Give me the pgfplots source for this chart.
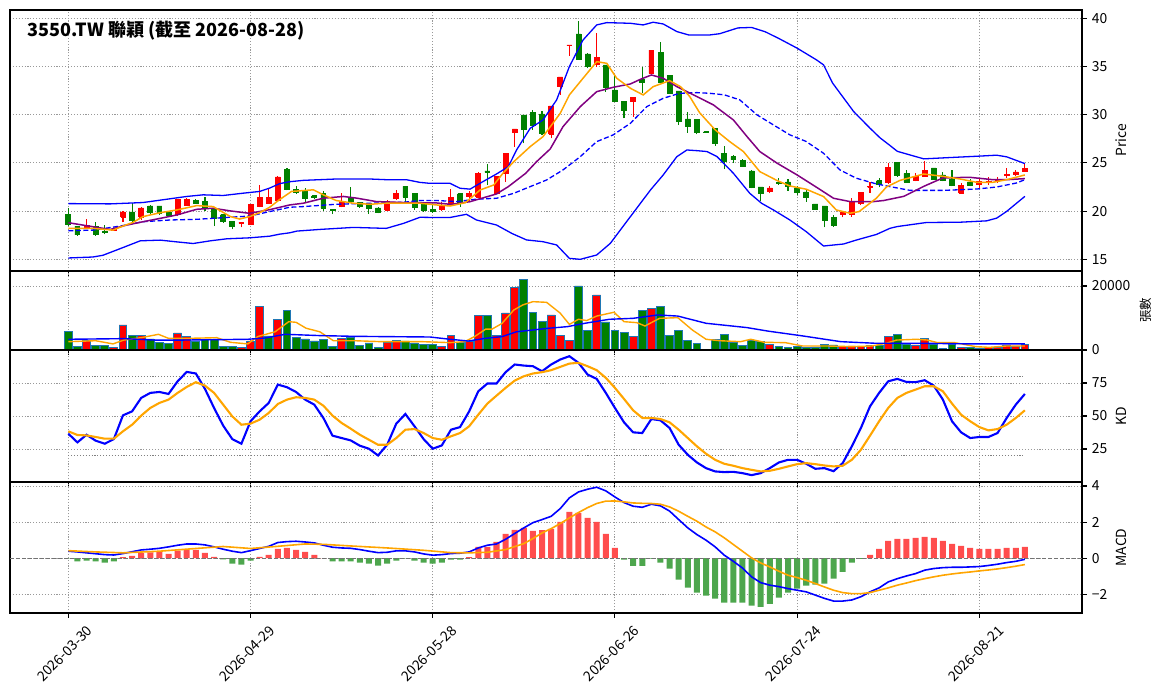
\documentclass[border=0pt]{standalone}
\usepackage{fontspec}
\setmainfont{Noto Sans CJK TC}
\usepackage{pgfplots}
\usepackage{pgfplotstable}
\pgfplotsset{compat=1.18}
\newdimen\pxu \pxu=0.72pt
\definecolor{mplorange}{RGB}{255,165,0}
\definecolor{mplpurple}{RGB}{128,0,128}
\definecolor{mplgreen}{RGB}{0,128,0}
\definecolor{histred}{RGB}{255,77,77}
\definecolor{histgreen}{RGB}{77,166,77}
\definecolor{tabblue}{RGB}{31,119,180}
\pgfplotsset{
 panel/.style={
  scale only axis, width=1072\pxu, anchor=south west,
  xmin=-6.4, xmax=111.27,
  axis line style={black, line width=1.1\pxu},
  ytick pos=right, yticklabel pos=right, xtick pos=bottom,
  xtick={0,20,40,60,80,100},
  tick align=outside, major tick length=4.9\pxu,
  tick style={black, line width=1.1\pxu},
  grid=major,
  major grid style={black!40, line width=0.9\pxu, dash pattern=on 1.1\pxu off 1.8\pxu},
  tick label style={font=\fontsize{10}{12}\selectfont},
  label style={font=\fontsize{10}{12}\selectfont},
  scaled ticks=false,
 },
}
\pgfplotstableread{
i o h l c
0 19.70 20.30 18.45 18.59
1 18.45 18.50 17.45 17.54
2 18.31 19.15 18.10 18.52
3 18.45 18.83 17.47 17.54
4 17.88 18.60 17.60 17.84
5 18.05 18.20 17.95 18.12
6 19.39 20.02 18.87 19.91
7 19.91 20.82 18.90 19.08
8 19.39 20.47 19.08 20.33
9 20.54 20.65 19.74 19.91
10 20.54 20.54 19.63 19.77
11 19.84 19.88 19.50 19.53
12 19.63 21.27 19.49 21.17
13 20.64 21.34 20.57 21.24
14 21.13 21.24 20.75 20.78
15 21.03 21.45 20.02 20.23
16 20.26 20.47 18.45 19.22
17 19.63 19.70 18.80 18.90
18 18.97 19.00 18.10 18.38
19 18.73 18.90 18.31 18.87
20 18.59 20.75 18.55 20.71
21 20.47 22.74 20.40 21.38
22 20.85 22.32 20.82 21.45
23 21.10 23.60 21.00 23.54
24 24.30 24.48 22.14 22.21
25 22.28 22.56 21.76 21.97
26 22.04 22.39 20.82 21.27
27 21.59 21.70 21.25 21.38
28 21.86 22.04 20.02 20.30
29 20.16 20.23 19.70 20.09
30 20.47 21.86 20.40 20.99
31 21.45 22.49 20.82 20.99
32 20.89 20.99 20.37 20.51
33 20.75 20.89 19.74 20.26
34 20.33 20.40 19.77 19.91
35 20.12 21.17 20.05 20.99
36 21.27 22.21 21.17 21.79
37 22.56 22.60 20.99 21.45
38 21.79 21.86 20.12 20.37
39 20.89 20.99 19.95 20.12
40 20.21 20.65 19.81 19.98
41 20.14 20.99 20.02 20.54
42 20.82 22.27 20.75 21.46
43 21.79 21.86 20.43 20.85
44 21.50 22.10 20.90 21.82
45 21.47 24.03 21.38 23.94
46 24.17 24.88 22.72 24.03
47 21.82 23.64 21.73 23.56
48 23.90 26.00 23.07 25.96
49 28.14 28.55 26.69 28.52
50 29.97 29.97 27.03 28.52
51 30.21 30.49 28.42 28.93
52 30.08 30.39 27.90 28.07
53 28.00 30.91 27.55 30.91
54 32.91 33.91 32.05 33.91
55 37.16 37.23 36.13 37.23
56 38.37 39.72 35.70 35.78
57 36.30 36.44 34.80 34.99
58 35.26 38.44 34.99 35.95
59 35.16 35.20 32.39 32.84
60 32.57 34.05 31.29 31.36
61 31.42 31.42 29.63 30.42
62 31.36 31.81 29.80 31.81
63 33.67 34.92 32.22 33.33
64 34.29 36.71 34.29 36.71
65 36.44 37.58 33.30 33.33
66 34.05 34.10 32.15 32.22
67 32.46 32.50 28.93 29.28
68 29.56 30.32 28.14 28.76
69 29.55 29.60 27.97 28.14
70 28.22 28.25 28.15 28.19
71 28.60 28.65 26.76 27.04
72 26.00 26.76 24.34 25.14
73 25.66 25.83 24.97 25.35
74 25.21 25.38 24.55 24.62
75 24.17 24.27 22.37 22.44
76 22.51 22.55 21.09 21.82
77 22.02 22.65 21.85 22.40
78 22.99 23.41 22.71 22.89
79 23.03 23.30 22.13 22.54
80 22.44 22.61 21.68 21.92
81 21.99 22.20 20.99 21.40
82 20.74 20.78 20.12 20.16
83 20.54 20.54 18.32 19.01
84 19.36 19.60 18.39 18.49
85 19.64 19.95 19.36 19.84
86 19.71 21.33 19.43 20.99
87 20.81 21.90 20.64 21.90
88 22.47 23.06 21.92 22.56
89 23.15 23.41 22.47 22.78
90 22.94 25.00 22.80 24.56
91 25.07 25.07 23.54 23.68
92 23.89 24.24 22.92 23.02
93 23.19 23.96 23.09 23.61
94 23.61 25.24 23.54 24.20
95 24.48 24.50 23.26 23.33
96 23.75 24.03 23.09 23.19
97 23.33 24.31 22.57 22.64
98 21.88 22.92 21.80 22.64
99 23.02 23.33 22.57 22.64
100 22.74 23.44 22.40 23.09
101 23.00 23.50 22.74 23.06
102 23.23 23.54 22.92 23.30
103 23.75 24.48 23.44 23.82
104 23.82 24.31 23.61 24.06
105 24.13 24.93 24.06 24.41
}\ohlc
\pgfplotstableread{
i k d
0 36.6 38.4
1 30.0 35.6
2 35.8 35.3
3 31.3 34.1
4 29.0 32.8
5 32.5 32.8
6 50.5 38.4
7 53.5 43.4
8 63.7 50.3
9 67.5 56.1
10 68.2 59.9
11 66.7 62.4
12 76.3 67.5
13 83.4 72.0
14 82.2 75.6
15 70.5 73.0
16 56.1 67.5
17 42.7 58.6
18 32.5 49.7
19 29.0 43.4
20 46.0 44.2
21 53.5 47.2
22 59.9 52.3
23 73.8 59.1
24 71.8 62.4
25 68.2 64.2
26 62.4 63.7
27 58.6 62.4
28 48.5 57.8
29 35.1 50.3
30 33.3 44.7
31 31.5 40.4
32 27.5 35.8
33 25.2 32.0
34 20.1 28.2
35 28.2 28.2
36 44.2 33.3
37 51.5 39.6
38 42.2 40.1
39 32.5 37.1
40 25.2 33.3
41 27.7 32.0
42 39.6 34.6
43 41.6 37.1
44 53.5 42.2
45 68.7 51.0
46 74.6 59.4
47 74.6 65.4
48 83.2 71.3
49 89.0 76.8
50 88.2 80.1
51 87.7 82.2
52 83.9 83.2
53 89.0 84.7
54 92.8 87.2
55 95.3 89.7
56 90.3 90.3
57 81.4 87.7
58 78.1 84.7
59 67.5 78.9
60 56.1 71.3
61 45.2 62.9
62 37.6 54.3
63 37.1 48.5
64 47.7 48.5
65 46.7 47.7
66 40.9 45.2
67 28.2 39.6
68 20.6 33.3
69 14.8 27.0
70 10.5 21.4
71 8.0 16.8
72 7.5 13.8
73 7.7 12.3
74 6.7 10.5
75 5.2 9.2
76 6.7 8.0
77 10.5 8.5
78 14.8 10.0
79 16.8 11.8
80 16.8 13.5
81 13.8 14.3
82 10.0 13.5
83 10.5 12.5
84 8.2 11.8
85 14.3 12.3
86 27.0 16.8
87 40.9 24.4
88 57.3 35.1
89 67.5 46.0
90 76.3 56.1
91 78.1 63.7
92 75.8 67.5
93 75.6 70.0
94 77.1 72.5
95 73.0 72.5
96 62.4 68.7
97 46.0 59.4
98 37.6 51.0
99 33.3 46.0
100 34.1 41.6
101 34.1 39.1
102 37.1 40.1
103 48.5 43.4
104 58.6 48.5
105 66.7 54.3
}\kdtab
\pgfplotstableread{
i dif
0 0.39
1 0.35
2 0.30
3 0.25
4 0.20
5 0.18
6 0.26
7 0.36
8 0.46
9 0.50
10 0.55
11 0.63
12 0.72
13 0.79
14 0.79
15 0.74
16 0.63
17 0.50
18 0.39
19 0.31
20 0.42
21 0.54
22 0.66
23 0.87
24 0.92
25 0.94
26 0.90
27 0.85
28 0.72
29 0.61
30 0.57
31 0.55
32 0.48
33 0.39
34 0.31
35 0.33
36 0.41
37 0.41
38 0.35
39 0.24
40 0.17
41 0.20
42 0.26
43 0.28
44 0.35
45 0.57
46 0.72
47 0.79
48 1.05
49 1.37
50 1.68
51 1.97
52 2.14
53 2.32
54 2.75
55 3.34
56 3.67
57 3.82
58 3.93
59 3.73
60 3.39
61 3.08
62 2.88
63 2.82
64 2.99
65 2.90
66 2.61
67 2.14
68 1.68
69 1.31
70 1.00
71 0.63
72 0.17
73 -0.17
74 -0.54
75 -1.03
76 -1.35
77 -1.49
78 -1.57
79 -1.68
80 -1.77
81 -1.86
82 -2.04
83 -2.22
84 -2.37
85 -2.37
86 -2.31
87 -2.13
88 -1.86
89 -1.64
90 -1.31
91 -1.13
92 -0.98
93 -0.85
94 -0.66
95 -0.57
96 -0.52
97 -0.50
98 -0.50
99 -0.48
100 -0.46
101 -0.40
102 -0.33
103 -0.24
104 -0.17
105 -0.06
}\macdtab
\begin{document}
\begin{tikzpicture}
\useasboundingbox (0,0) rectangle (1164\pxu,698\pxu);
% ---------------- price ----------------
\begin{axis}[panel, at={(10\pxu,427\pxu)}, height=261\pxu,
  ymin=13.79, ymax=40.86, ytick={15,20,25,30,35,40}, yticklabels={15,20,25,30,35,40},
  xticklabels={}, ylabel={Price},
  ylabel style={at={(axis description cs:1.0364,0.5)}, anchor=center}]
\pgfplotstablegetrowsof{\ohlc}
\pgfmathtruncatemacro\lastrow{\pgfplotsretval-1}
\pgfplotsforeachungrouped \rowidx in {0,...,\lastrow}{%
  \pgfplotstablegetelem{\rowidx}{i}\of\ohlc \edef\vi{\pgfplotsretval}%
  \pgfplotstablegetelem{\rowidx}{o}\of\ohlc \edef\vo{\pgfplotsretval}%
  \pgfplotstablegetelem{\rowidx}{h}\of\ohlc \edef\vh{\pgfplotsretval}%
  \pgfplotstablegetelem{\rowidx}{l}\of\ohlc \edef\vl{\pgfplotsretval}%
  \pgfplotstablegetelem{\rowidx}{c}\of\ohlc \edef\vc{\pgfplotsretval}%
  \ifdim\vc pt<\vo pt \def\cc{mplgreen}\else\def\cc{red}\fi
  \pgfmathsetmacro\xa{\vi-0.27}\pgfmathsetmacro\xb{\vi+0.27}%
  \edef\tmp{\noexpand\addplot[draw=\cc, line width=1.1\noexpand\pxu, forget plot] coordinates {(\vi,\vl) (\vi,\vh)};
    \noexpand\addplot[draw=\cc, fill=\cc, line width=0.8\noexpand\pxu, forget plot] coordinates {(\xa,\vo) (\xb,\vo) (\xb,\vc) (\xa,\vc) (\xa,\vo)};}%
  \tmp
}
% Bollinger upper
\addplot[blue, line width=1.3\pxu] coordinates {(0,20.78) (4.6,20.75) (8.2,20.89) (13,21.52) (14.8,21.69) (17,21.62) (19.2,21.86) (21,22.04) (22.1,22.39) (23.2,22.85) (24.3,23.05) (25.8,23.19) (29.4,23.33) (33.1,23.33) (34.9,23.26) (37.1,23.26) (38.6,22.98) (39.7,22.88) (41.9,22.88) (43,22.37) (44.1,22.28) (45.4,23.0) (47,23.85) (48.3,24.61) (49.2,26.34) (50.7,28.59) (52.1,29.45) (53.6,31.53) (55,34.99) (56.5,37.75) (58,39.31) (59.1,39.55) (61.7,39.48) (63.1,39.31) (64.2,39.59) (65.3,39.41) (66.8,38.62) (68.1,38.27) (70.4,38.27) (71.5,38.4) (73.5,39.0) (75,39.05) (76.5,38.6) (78,37.9) (80,36.9) (82.1,35.7) (82.9,35.17) (83.9,33.27) (86.2,30.33) (88,28.6) (89.1,27.6) (90.2,26.8) (91,26.2) (93.9,25.42) (96,25.52) (99.7,25.69) (101.9,25.8) (103,25.63) (105,24.93)};
% Bollinger lower
\addplot[blue, line width=1.3\pxu] coordinates {(0,15.14) (2.7,15.24) (3.8,15.42) (5.7,16.11) (7.9,16.92) (10.1,16.99) (11.9,16.81) (13.7,16.64) (15.6,16.92) (17.4,17.13) (19.9,17.23) (22.1,17.40) (23.2,17.61) (24.3,17.75) (25.1,17.93) (27.6,18.10) (31.3,18.31) (34.9,18.21) (36.8,18.73) (38.6,19.36) (40.1,19.34) (41.9,19.34) (43.7,19.67) (44.8,19.08) (47,18.56) (48.7,17.68) (50.3,17.01) (52.1,16.83) (53.6,16.49) (55,15.10) (56.2,15.0) (58,15.45) (59.5,16.66) (61.7,19.43) (63.9,22.19) (65.3,23.75) (66.8,25.65) (67.9,26.34) (69,26.27) (70.1,26.18) (71.2,25.66) (73,23.93) (74.8,21.85) (76.1,20.81) (77.4,20.12) (79.2,19.08) (81,17.87) (82.9,16.38) (85.1,16.59) (86.5,17.0) (88.7,17.58) (90.2,18.22) (91,18.40) (94.2,18.82) (97.9,18.85) (100.8,18.99) (101.9,19.27) (103,19.97) (104.1,20.83) (105,21.53)};
% middle (MA20)
\addplot[blue, line width=1.3\pxu, dash pattern=on 5\pxu off 2.5\pxu] coordinates {(0,17.96) (2.7,18.03) (5.7,18.45) (8.2,18.90) (11.2,19.08) (14.1,19.15) (17,19.32) (19.9,19.49) (22.1,19.95) (24.3,20.40) (25.8,20.47) (29.4,20.71) (33.1,20.82) (36.8,20.92) (38.6,21.10) (40.4,21.10) (42.6,20.99) (44.8,21.24) (47,21.33) (48.9,21.85) (50.7,22.54) (52.5,23.23) (54.3,24.27) (56.2,25.65) (58,27.21) (59.8,27.90) (61.7,29.11) (63.5,30.84) (65.3,31.70) (67.1,32.22) (69,32.29) (70.4,32.22) (72,32.06) (73.7,31.54) (75.6,29.98) (77.4,28.94) (79.2,27.91) (81,27.22) (82.9,26.0) (84.7,24.27) (86.5,23.41) (88.7,22.82) (90.2,22.54) (92.4,22.15) (96,22.15) (99.7,22.29) (101.9,22.5) (104.1,22.92) (105,23.26)};
% MA10
\addplot[mplpurple, line width=1.5\pxu] coordinates {(0,18.80) (2.7,18.38) (4.6,18.10) (6.4,18.55) (8.2,18.90) (10.1,19.25) (11.9,19.60) (14.1,20.19) (15.9,20.30) (17.8,20.02) (19.9,19.77) (22.1,20.15) (24.3,20.64) (25.8,20.82) (28,21.34) (30.2,21.52) (31.7,21.34) (33.8,20.99) (36.8,20.89) (40.4,20.85) (42,20.70) (44.1,20.98) (47,21.78) (48.3,22.54) (50.2,23.92) (51.4,25.13) (52.9,26.45) (54.3,28.76) (56.2,30.84) (58,32.39) (59.8,32.84) (61.7,33.19) (62.8,33.67) (64,34.12) (65.3,33.78) (66.8,32.91) (69,31.88) (70.8,31.02) (73,29.46) (74.5,27.73) (75.9,26.18) (77.8,24.97) (80,23.75) (82.3,22.37) (84,21.33) (85.8,20.99) (88.4,20.99) (89.5,21.1) (91.7,21.53) (93.9,22.57) (96,23.44) (98.9,23.51) (101.5,23.26) (103,23.26) (105,23.37)};
% MA5
\addplot[mplorange, line width=1.5\pxu] coordinates {(0,18.21) (2.7,18.21) (4.9,18.03) (6,18.45) (7.1,18.83) (8.2,19.43) (10.1,19.84) (11.9,20.12) (14.1,20.57) (15.9,20.47) (17.8,19.43) (18.8,19.18) (19.9,19.43) (21,19.84) (22.1,20.4) (23.2,21.2) (24.5,22.04) (26.9,22.21) (28,21.69) (29.4,21.10) (31.3,20.82) (33.1,20.71) (34.9,20.82) (38.6,20.82) (40.4,20.64) (41.9,20.53) (43.6,20.88) (45.2,22.19) (46.7,22.71) (47.7,23.92) (48.9,25.13) (50.7,26.69) (52.1,27.72) (54,30.15) (55,32.05) (56.5,33.78) (58,35.50) (59.1,35.33) (60.2,33.78) (61.7,32.74) (63.1,32.05) (64.2,32.91) (66,33.53) (67.2,32.91) (68.2,31.9) (69.3,30.2) (71,28.43) (72.6,27.21) (74.1,26.18) (75.9,24.10) (77.8,23.17) (79.2,22.61) (81,22.27) (82.9,21.51) (84.3,20.12) (85.8,19.78) (86.8,19.95) (88.7,21.34) (89.8,22.5) (91.3,23.19) (93.9,23.85) (96,23.61) (97.9,23.33) (99.7,22.99) (101.5,22.99) (103,23.26) (105,23.75)};
\node[anchor=west, inner sep=0pt, font=\fontsize{13}{15}\selectfont\bfseries] at (axis description cs:0.0159,0.9195) {3550.TW 聯穎 (截至 2026-08-28)};
\end{axis}
% ---------------- volume ----------------
\begin{axis}[panel, at={(10\pxu,348\pxu)}, height=79\pxu,
  ymin=0, ymax=24690, ytick={0,20000}, yticklabels={0,20000},
  xticklabels={}, ylabel={張數},
  ylabel style={at={(axis description cs:1.0597,0.5)}, anchor=center, font=\fontsize{9}{11}\selectfont}]
\addplot[ybar, bar width=0.86, bar shift=0pt, fill=red, draw=tabblue, line width=0.9\pxu] coordinates {(2,2917) (5,833) (6,7813) (8,4583) (12,5313) (13,4271) (19,833) (20,2813) (21,13650) (23,9583) (30,3646) (35,2292) (36,3021) (41,1042) (42,4583) (44,2708) (45,10833) (47,4583) (48,11563) (49,19583) (53,10938) (54,4583) (55,3021) (58,17188) (62,4271) (64,12917) (77,1667) (85,1146) (86,1250) (87,1042) (88,1458) (90,4167) (93,1563) (94,3542) (98,833) (101,833) (102,833) (103,1563) (104,1250) (105,1667)};
\addplot[ybar, bar width=0.86, bar shift=0pt, fill=mplgreen, draw=tabblue, line width=0.9\pxu] coordinates {(0,5835) (1,1042) (3,1458) (4,1458) (7,4583) (9,3438) (10,2396) (11,2083) (14,2708) (15,3333) (16,3333) (17,1042) (18,1042) (22,4375) (24,12396) (25,3958) (26,3438) (27,2813) (28,3333) (29,1042) (31,4063) (32,1458) (33,2188) (34,833) (37,2813) (38,2188) (39,1771) (40,1771) (43,2292) (46,10833) (50,22083) (51,11771) (52,8958) (56,20000) (57,6146) (59,8750) (60,6146) (61,5521) (63,12396) (65,13646) (66,4583) (67,6146) (68,3021) (69,2083) (70,200) (71,3333) (72,4896) (73,2292) (74,1354) (75,3021) (76,2708) (78,1146) (79,833) (80,1146) (81,729) (82,938) (83,1667) (84,1563) (89,1354) (91,4896) (92,1875) (95,1875) (96,521) (97,1771) (99,833) (100,625)};
\addplot[mplorange, line width=1.4\pxu] coordinates {(0,2600) (3,2900) (4.9,1900) (6.1,3100) (8,3850) (9.9,4900) (11,3650) (13.3,3650) (16.3,3850) (17.8,2400) (19.7,1900) (20.8,4200) (22.7,5700) (24.2,8850) (25,8650) (26.1,6800) (27.6,5700) (29.1,2900) (31.4,2900) (34.4,2600) (38.9,2600) (41.9,2300) (43.5,2600) (44.6,4200) (45.8,6500) (46.5,6500) (47.6,8300) (48.9,12500) (49.9,14100) (51,15100) (52.5,14900) (54,11500) (55,8000) (56,9600) (56.9,9200) (58,10600) (59.9,11800) (61,8850) (62.4,8550) (63.3,7500) (64.9,9900) (66.9,10100) (68.5,6250) (70,3350) (71.5,2900) (73.8,2600) (74.9,3350) (76.4,2400) (78.7,2300) (80.6,1250) (83.3,1250) (86,1050) (88.2,1250) (89.8,2100) (90.9,3100) (93.1,3350) (94.3,3100) (95.4,2300) (97.3,2300) (99.6,1050) (101.1,830) (103,1250) (105,1250)};
\addplot[blue, line width=1.4\pxu] coordinates {(0,3350) (6.1,3550) (9.5,3100) (12.5,3100) (19.7,3350) (21.6,3750) (23.8,4900) (27.6,4500) (31.4,4270) (35.2,4170) (39.7,4060) (41.9,3350) (43.9,2800) (45.8,3650) (47.6,4170) (49.2,5700) (51,6250) (52.7,6800) (54.8,7300) (56.7,8350) (59.4,9600) (62,9900) (64.7,10950) (66.9,10600) (70,8350) (74.5,7000) (76.8,5900) (80.6,4400) (84.8,2600) (88.6,2100) (93.5,2100) (99.2,1900) (105,1900)};
\end{axis}
% ---------------- KD ----------------
\begin{axis}[panel, at={(10\pxu,216\pxu)}, height=132\pxu,
  ymin=0, ymax=100, ytick={25,50,75}, yticklabels={25,50,75},
  xticklabels={}, ylabel={KD},
  ylabel style={at={(axis description cs:1.0364,0.5)}, anchor=center}]
\addplot[black!50, line width=0.9\pxu, dash pattern=on 1.1\pxu off 1.8\pxu] coordinates {(0,80) (105,80)};
\addplot[black!50, line width=0.9\pxu, dash pattern=on 1.1\pxu off 1.8\pxu] coordinates {(0,20) (105,20)};
\addplot[blue, line width=2.1\pxu] table[x=i, y=k] {\kdtab};
\addplot[mplorange, line width=2.1\pxu] table[x=i, y=d] {\kdtab};
\end{axis}
% ---------------- MACD ----------------
\begin{axis}[panel, at={(10\pxu,85\pxu)}, height=131\pxu,
  ymin=-3.03, ymax=4.22, ytick={-2,0,2,4}, yticklabels={−2,0,2,4},
  xticklabels={2026-03-30,2026-04-29,2026-05-28,2026-06-26,2026-07-24,2026-08-21},
  xticklabel style={xshift=18\pxu, rotate=45, anchor=north east},
  ylabel={MACD},
  ylabel style={at={(axis description cs:1.0364,0.5)}, anchor=center}]
\addplot[ybar, bar width=0.66, bar shift=0pt, fill=histred, draw=none] coordinates {(6,0.06) (7,0.13) (8,0.30) (9,0.33) (10,0.39) (11,0.24) (12,0.42) (13,0.46) (14,0.46) (15,0.30) (16,0.07) (21,0.07) (22,0.18) (23,0.52) (24,0.57) (25,0.46) (26,0.35) (27,0.18) (28,0.01) (44,0.06) (45,0.63) (46,0.63) (47,0.90) (48,1.35) (49,1.57) (50,1.68) (51,1.51) (52,1.55) (53,1.62) (54,2.01) (55,2.56) (56,2.51) (57,2.23) (58,2.01) (59,1.35) (60,0.57) (88,0.18) (89,0.52) (90,0.96) (91,1.07) (92,1.07) (93,1.13) (94,1.18) (95,1.13) (96,0.96) (97,0.79) (98,0.68) (99,0.57) (100,0.52) (101,0.52) (102,0.52) (103,0.57) (104,0.57) (105,0.63)};
\addplot[ybar, bar width=0.66, bar shift=0pt, fill=histgreen, draw=none] coordinates {(0,-0.01) (1,-0.18) (2,-0.13) (3,-0.18) (4,-0.24) (5,-0.18) (17,-0.06) (18,-0.30) (19,-0.35) (20,-0.13) (29,-0.18) (30,-0.18) (31,-0.18) (32,-0.24) (33,-0.30) (34,-0.41) (35,-0.30) (36,-0.13) (37,-0.01) (38,-0.13) (39,-0.24) (40,-0.30) (41,-0.24) (42,-0.07) (43,-0.07) (61,-0.07) (62,-0.42) (63,-0.42) (64,-0.02) (65,-0.24) (66,-0.57) (67,-1.18) (68,-1.62) (69,-1.90) (70,-2.07) (71,-2.23) (72,-2.45) (73,-2.45) (74,-2.45) (75,-2.62) (76,-2.69) (77,-2.53) (78,-2.18) (79,-1.90) (80,-1.68) (81,-1.51) (82,-1.46) (83,-1.40) (84,-1.13) (85,-0.76) (86,-0.24) (87,-0.04)};
\addplot[black!55, line width=1.1\pxu, dash pattern=on 3.5\pxu off 2.5\pxu] coordinates {(-6.4,0) (111.27,0)};
\addplot[blue, line width=1.6\pxu] table[x=i, y=dif] {\macdtab};
\addplot[mplorange, line width=1.6\pxu] coordinates {(0,0.42) (3,0.35) (6,0.30) (10,0.39) (14,0.54) (17,0.65) (20,0.54) (23,0.66) (26,0.79) (28,0.77) (31,0.68) (35,0.57) (39,0.44) (42,0.31) (44,0.30) (46,0.33) (48,0.48) (50,0.81) (51,1.09) (52,1.40) (53,1.64) (54,1.92) (55,2.23) (56,2.53) (57,2.80) (58,3.03) (59,3.16) (60,3.17) (61,3.12) (62,3.06) (63,3.04) (64,3.03) (65,2.99) (66,2.84) (67,2.60) (68,2.32) (69,2.05) (70,1.73) (71,1.46) (72,1.13) (73,0.76) (74,0.39) (75,0.02) (76,-0.26) (77,-0.48) (78,-0.72) (79,-0.94) (80,-1.07) (81,-1.22) (82,-1.40) (83,-1.59) (84,-1.77) (85,-1.90) (86,-1.96) (87,-1.96) (88,-1.90) (89,-1.77) (90,-1.64) (91,-1.49) (92,-1.37) (93,-1.24) (94,-1.13) (95,-1.03) (96,-0.94) (97,-0.87) (98,-0.81) (99,-0.76) (100,-0.70) (101,-0.65) (102,-0.59) (103,-0.52) (104,-0.44) (105,-0.35)};
\end{axis}
\end{tikzpicture}
\end{document}
